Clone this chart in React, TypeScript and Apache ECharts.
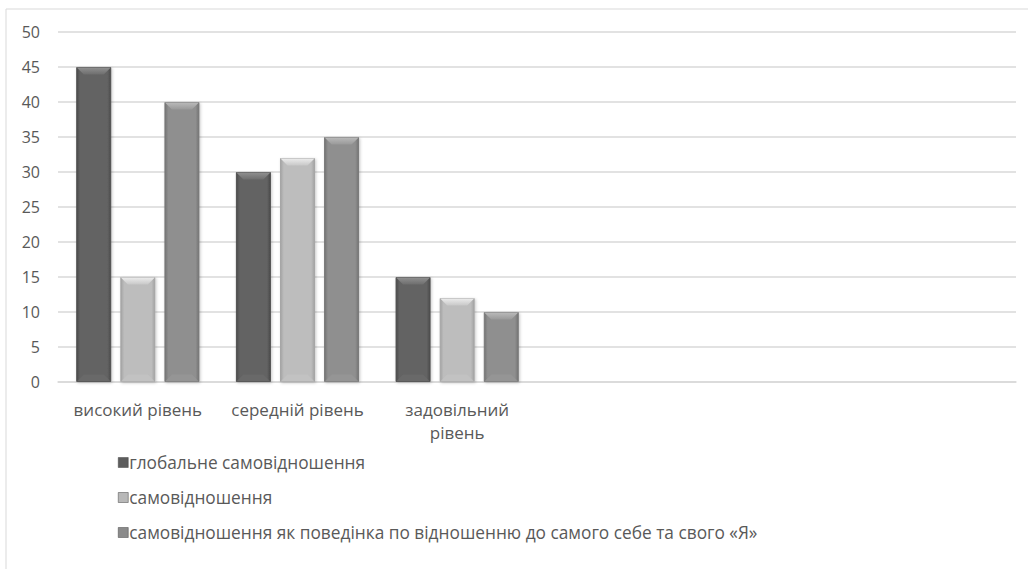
import React, { useEffect, useRef } from "react";
import * as echarts from "echarts";

const categories = [
  "високий рівень",
  "середній рівень",
  "задовільний рівень",
  "",
  "",
  "",
];
const seriesNames = [
  "глобальне самовідношення",
  "самовідношення",
  "самовідношення як поведінка по відношенню до самого себе та свого «Я»",
];
const globalValues = [45, 30, 15, null, null, null];
const selfValues = [15, 32, 12, null, null, null];
const behaviourValues = [40, 35, 10, null, null, null];
const yTicks = [0, 5, 10, 15, 20, 25, 30, 35, 40, 45, 50];

const FONT = "'Open Sans', 'Noto Sans', sans-serif";
const TEXT = "#595959";
const BAR_WIDTH = 35;
const BAR_GAP = 0.26;

type Palette = { mid: string; edge: string; border: string; capTop: string; capBottom: string; base: string };

const palettes: Palette[] = [
  { mid: "#636363", edge: "#4b4b4b", border: "#505050", capTop: "#909090", capBottom: "#6e6e6e", base: "#6a6a6a" },
  { mid: "#bdbdbd", edge: "#a3a3a3", border: "#a6a6a6", capTop: "#ececec", capBottom: "#c8c8c8", base: "#c3c3c3" },
  { mid: "#8f8f8f", edge: "#747474", border: "#787878", capTop: "#bababa", capBottom: "#999999", base: "#969696" },
];

function barStyle(p: Palette) {
  return {
    color: new echarts.graphic.LinearGradient(0, 0, 1, 0, [
      { offset: 0, color: p.edge },
      { offset: 0.1, color: p.mid },
      { offset: 0.9, color: p.mid },
      { offset: 1, color: p.edge },
    ]),
    borderColor: p.border,
    borderWidth: 1,
    shadowColor: "rgba(0,0,0,0.22)",
    shadowBlur: 3,
    shadowOffsetX: 1,
    shadowOffsetY: 1,
  };
}

// Bevelled cap and base drawn on top of each bar of a series
function bevelSeries(values: (number | null)[], seriesIdx: number, p: Palette) {
  const data = values
    .map((v, i) => (v == null ? null : [i, v]))
    .filter((d) => d != null);
  return {
    type: "custom",
    silent: true,
    z: 3,
    data,
    renderItem: (params: any, api: any) => {
      const top = api.coord([api.value(0), api.value(1)]);
      const bottom = api.coord([api.value(0), 0]);
      const step = BAR_WIDTH * (1 + BAR_GAP);
      const cx = top[0] + (seriesIdx - 1) * step;
      const x0 = cx - BAR_WIDTH / 2 + 0.5;
      const x1 = cx + BAR_WIDTH / 2 - 0.5;
      const yt = top[1] + 0.5;
      const yb = bottom[1] - 0.5;
      const d = 7;
      return {
        type: "group",
        children: [
          {
            type: "polygon",
            shape: { points: [[x0, yt], [x1, yt], [x1 - d, yt + d], [x0 + d, yt + d]] },
            style: {
              fill: new echarts.graphic.LinearGradient(0, 0, 0, 1, [
                { offset: 0, color: p.capTop },
                { offset: 1, color: p.capBottom },
              ]),
            },
          },
          {
            type: "polygon",
            shape: { points: [[x0, yb], [x1, yb], [x1 - d, yb - d], [x0 + d, yb - d]] },
            style: { fill: p.base, opacity: 0.8 },
          },
        ],
      };
    },
  };
}

export default function App() {
  const ref = useRef<HTMLDivElement>(null);

  useEffect(() => {
    if (!ref.current) return;
    const chart = echarts.init(ref.current, undefined, { renderer: "svg" });
    const valueSets = [globalValues, selfValues, behaviourValues];
    const legendColors = ["#5c5c5c", "#b8b8b8", "#8a8a8a"];
    chart.setOption({
      animation: false,
      backgroundColor: "#ffffff",
      textStyle: { fontFamily: FONT },
      grid: { left: 58, right: 12, top: 32, bottom: 187, containLabel: false },
      graphic: [
        {
          type: "polyline",
          shape: { points: [[6, 569], [6, 9], [1028, 9]] },
          style: { stroke: "#d9d9d9", lineWidth: 1, fill: null },
          silent: true,
        },
      ],
      legend: {
        orient: "vertical",
        left: 113,
        top: 449,
        itemWidth: 10,
        itemHeight: 10,
        itemGap: 18,
        icon: "rect",
        textStyle: { color: TEXT, fontSize: 17.3, fontFamily: FONT, lineHeight: 17, padding: [0, 0, 0, -4] },
        data: seriesNames.map((n, i) => ({
          name: n,
          itemStyle: { color: legendColors[i], borderColor: "#444", borderWidth: 0.5 },
        })),
      },
      xAxis: {
        type: "category",
        data: categories,
        axisLine: { lineStyle: { color: "#d9d9d9", width: 1.5 } },
        axisTick: { show: false },
        axisLabel: {
          color: TEXT,
          fontSize: 17,
          fontFamily: FONT,
          margin: 16,
          lineHeight: 23,
          interval: 0,
          formatter: (v: string) => (v === "задовільний рівень" ? "задовільний\nрівень" : v),
        },
      },
      yAxis: {
        type: "value",
        min: yTicks[0],
        max: yTicks[yTicks.length - 1],
        interval: 5,
        axisLine: { show: false },
        axisTick: { show: false },
        axisLabel: { color: TEXT, fontSize: 16, fontFamily: FONT, margin: 18 },
        splitLine: { lineStyle: { color: "#d9d9d9", width: 1.5 } },
      },
      series: [
        ...seriesNames.map((name, i) => ({
          name,
          type: "bar",
          data: valueSets[i],
          barWidth: BAR_WIDTH,
          barGap: `${BAR_GAP * 100}%`,
          itemStyle: barStyle(palettes[i]),
        })),
        ...valueSets.map((vals, i) => bevelSeries(vals, i, palettes[i])),
      ],
    });
    return () => chart.dispose();
  }, []);

  return (
    <div
      ref={ref}
      style={{ position: "fixed", left: 0, top: 0, width: 1028, height: 569, background: "#fff" }}
    />
  );
}
